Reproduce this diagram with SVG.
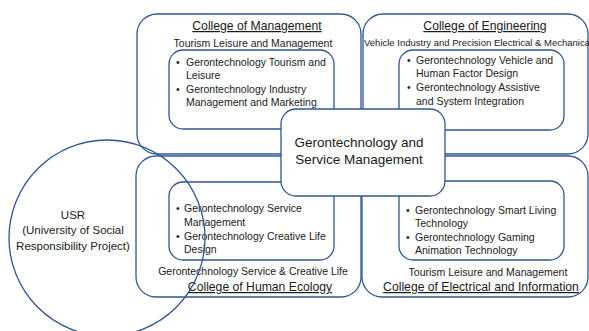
<svg xmlns="http://www.w3.org/2000/svg" width="589" height="331" viewBox="0 0 589 331">
<style>
.big{fill:#fff;stroke:#2F5597;stroke-width:1.3}
.inner{fill:#fff;stroke:#2F5597;stroke-width:1.3}
.ctr{fill:#fff;stroke:#2F5597;stroke-width:1.3}
.circ{fill:none;stroke:#2F5597;stroke-width:1.3}
text{font-family:"Liberation Sans",Arial,sans-serif;fill:#1a1a1a}
.title{font-size:12.2px;text-anchor:middle;text-decoration:underline}
.sub{font-size:10.5px;text-anchor:middle}
.sub2{font-size:9.5px}
.b{font-size:10.5px}
.c{font-size:13.5px;text-anchor:middle}
.u{font-size:11.5px;text-anchor:middle}
</style>
<g id="college-management">
<rect class="big" x="137" y="14" width="224" height="140" rx="20"/>
<text class="title" x="257" y="30">College of Management</text>
<text class="sub" x="253" y="47">Tourism Leisure and Management</text>
<rect class="inner" x="169" y="50" width="165" height="79" rx="14"/>
<text class="b" x="176" y="66">•</text><text class="b" x="186" y="66">Gerontechnology Tourism and</text>
<text class="b" x="186" y="79">Leisure</text>
<text class="b" x="176" y="93">•</text><text class="b" x="186" y="93">Gerontechnology Industry</text>
<text class="b" x="186" y="106">Management and Marketing</text>
</g>
<g id="college-engineering">
<rect class="big" x="363" y="14" width="225" height="140" rx="20"/>
<text class="title" x="485" y="30">College of Engineering</text>
<text class="sub2" x="364" y="46">Vehicle Industry and Precision Electrical &amp; Mechanica</text>
<rect class="inner" x="399" y="50" width="165" height="80" rx="14"/>
<text class="b" x="407" y="64">•</text><text class="b" x="416" y="64">Gerontechnology Vehicle and</text>
<text class="b" x="416" y="77">Human Factor Design</text>
<text class="b" x="407" y="91">•</text><text class="b" x="416" y="91">Gerontechnology Assistive</text>
<text class="b" x="416" y="105">and System Integration</text>
</g>
<g id="college-human-ecology">
<rect class="big" x="136" y="156" width="225" height="141" rx="20"/>
<rect class="inner" x="169" y="182" width="165" height="78" rx="14"/>
<text class="b" x="176" y="212">•</text><text class="b" x="184" y="212">Gerontechnology Service</text>
<text class="b" x="184" y="226">Management</text>
<text class="b" x="176" y="240">•</text><text class="b" x="184" y="240">Gerontechnology Creative Life</text>
<text class="b" x="184" y="253">Design</text>
<text class="sub" x="253" y="275">Gerontechnology Service &amp; Creative Life</text>
<text class="title" x="260" y="291">College of Human Ecology</text>
</g>
<g id="college-electrical">
<rect class="big" x="362" y="156" width="226" height="141" rx="20"/>
<rect class="inner" x="399" y="181" width="165" height="79" rx="14"/>
<text class="b" x="406" y="214">•</text><text class="b" x="415" y="214">Gerontechnology Smart Living</text>
<text class="b" x="415" y="227">Technology</text>
<text class="b" x="406" y="241">•</text><text class="b" x="415" y="241">Gerontechnology Gaming</text>
<text class="b" x="415" y="254">Animation Technology</text>
<text class="sub" x="488" y="276">Tourism Leisure and Management</text>
<text class="title" x="481" y="291">College of Electrical and Information</text>
</g>
<g id="center">
<rect class="ctr" x="281" y="109" width="164" height="87" rx="15"/>
<text class="c" x="359" y="147">Gerontechnology and</text>
<text class="c" x="359" y="164">Service Management</text>
</g>
<g id="usr">
<circle class="circ" cx="107" cy="238" r="98"/>
<text class="u" x="73" y="219">USR</text>
<text class="u" x="73" y="234">(University of Social</text>
<text class="u" x="73" y="250">Responsibility Project)</text>
</g>
<g id="connectors"></g>
</svg>
